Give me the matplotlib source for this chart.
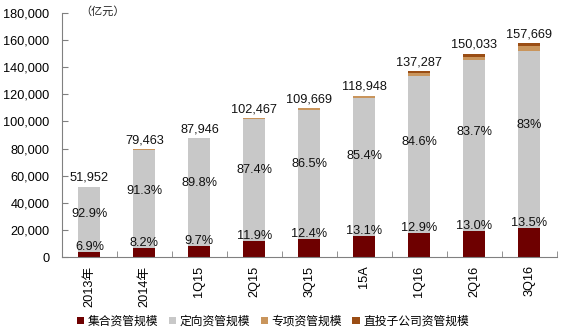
import matplotlib
matplotlib.use("Agg")
import matplotlib.pyplot as plt
import numpy as np

plt.rcParams['font.family'] = ['Liberation Sans', 'Noto Sans CJK SC', 'DejaVu Sans']

categories = ["2013年", "2014年", "1Q15", "2Q15", "3Q15", "15A", "1Q16", "2Q16", "3Q16"]
totals = [51952, 79463, 87946, 102467, 109669, 118948, 137287, 150033, 157669]
collective_pct = [6.9, 8.2, 9.7, 11.9, 12.4, 13.1, 12.9, 13.0, 13.5]
directed_pct = [92.9, 91.3, 89.8, 87.4, 86.5, 85.4, 84.6, 83.7, 83.0]
special_pct = [0.2, 0.5, 0.5, 0.7, 1.1, 1.3, 1.4, 1.8, 2.0]
direct_sub_pct = [0.0, 0.0, 0.0, 0.0, 0.0, 0.2, 1.1, 1.5, 1.5]
collective_labels = ["6.9%", "8.2%", "9.7%", "11.9%", "12.4%", "13.1%", "12.9%", "13.0%", "13.5%"]
directed_labels = ["92.9%", "91.3%", "89.8%", "87.4%", "86.5%", "85.4%", "84.6%", "83.7%", "83%"]
series_names = ["集合资管规模", "定向资管规模", "专项资管规模", "直投子公司资管规模"]
y_ticks = [0, 20000, 40000, 60000, 80000, 100000, 120000, 140000, 160000, 180000]

colors = ["#6E0000", "#C8C8C8", "#C9955C", "#9A4D14"]

tot = np.array(totals, dtype=float)
parts = [tot * np.array(p) / 100.0 for p in (collective_pct, directed_pct, special_pct, direct_sub_pct)]

fig = plt.figure(figsize=(5.63, 3.33), dpi=100)
ax = fig.add_axes([0.110, 0.228, 0.879, 0.733])

x = np.arange(len(categories))
bottom = np.zeros(len(categories))
handles = []
for vals, col, name in zip(parts, colors, series_names):
    h = ax.bar(x, vals, width=0.4, bottom=bottom, color=col, label=name, linewidth=0)
    handles.append(h)
    bottom = bottom + vals

fs = 9.2
for i in range(len(categories)):
    ax.annotate(f"{totals[i]:,}", (x[i], totals[i]), xytext=(0, 2), textcoords="offset points",
                ha="center", va="bottom", fontsize=fs, color="#111111")
    ax.annotate(collective_labels[i], (x[i], parts[0][i]), xytext=(0, 3.5), textcoords="offset points",
                ha="center", va="center", fontsize=fs, color="#111111")
    ymid = parts[0][i] + 0.58 * parts[1][i]
    ax.text(x[i], ymid, directed_labels[i], ha="center", va="center", fontsize=fs, color="#111111")

ax.set_xlim(-0.5, len(categories) - 0.5)
ax.set_ylim(0, 180000)
ax.set_yticks(y_ticks)
ax.set_yticklabels([f"{v:,}" for v in y_ticks], fontsize=fs)
ax.set_xticks(x)
ax.set_xticklabels(categories, rotation=90, fontsize=fs)
ax.set_xticks(np.arange(len(categories) + 1) - 0.5, minor=True)
ax.tick_params(axis="x", which="major", length=0, pad=6)
ax.tick_params(axis="x", which="minor", direction="in", length=4, color="#808080")
ax.tick_params(axis="y", direction="in", length=4, color="#808080", pad=9)

for s in ("top", "right"):
    ax.spines[s].set_visible(False)
for s in ("left", "bottom"):
    ax.spines[s].set_color("#808080")
    ax.spines[s].set_linewidth(0.8)

fig.text(0.142, 0.965, "（亿元）", fontsize=8, ha="left", va="center",
         family=['Noto Sans CJK SC', 'DejaVu Sans'], color="#222222")

leg = fig.legend(handles=handles, labels=series_names, loc="center", bbox_to_anchor=(0.485, 0.035),
                 ncol=4, frameon=False, handlelength=0.6, handleheight=0.6,
                 handletextpad=0.3, columnspacing=0.9,
                 prop={'family': ['Noto Sans CJK SC', 'DejaVu Sans'], 'size': 8.5})

fig.savefig("out.png", dpi=100)
